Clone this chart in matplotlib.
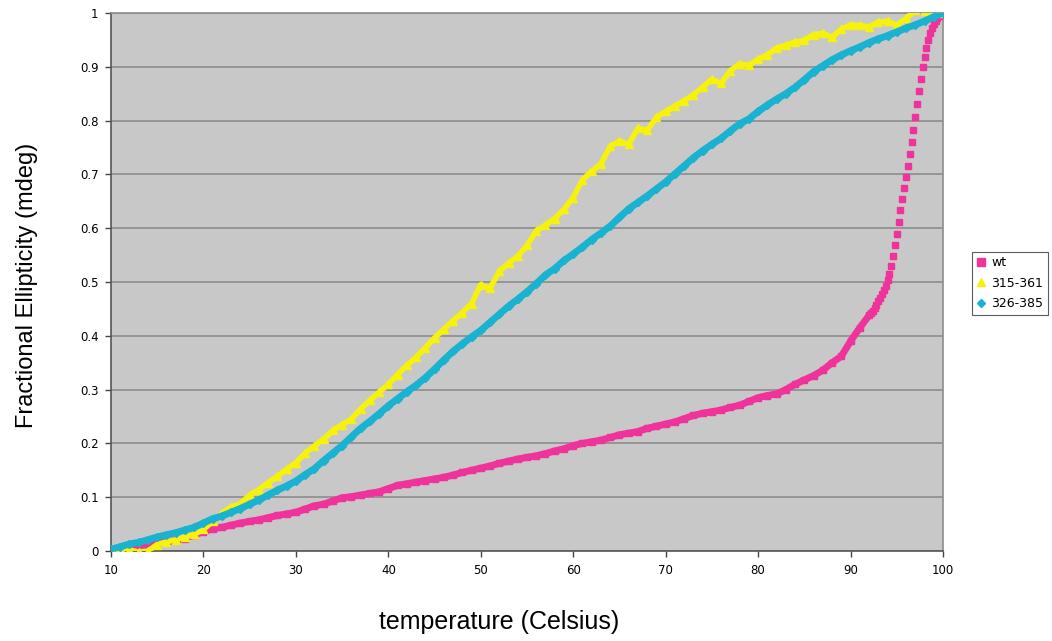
import matplotlib
matplotlib.use("Agg")
import matplotlib.pyplot as plt
import numpy as np

# temperature scan, 1 degree steps
temp = np.arange(10, 101)

# wt: 1 degree steps up to 91, then finer steps through the transition
wt_temp = list(range(10, 92)) + [
    92.0, 92.2, 92.4, 92.6, 92.8, 93.0, 93.2, 93.4, 93.6, 93.8,
    94.0, 94.2, 94.4, 94.6, 94.8, 95.0, 95.2, 95.4, 95.6, 95.8,
    96.0, 96.2, 96.4, 96.6, 96.8, 97.0, 97.2, 97.4, 97.6, 97.8,
    98.0, 98.2, 98.4, 98.6, 98.8, 99.0, 99.2, 99.4, 99.6, 99.8, 100.0]
wt_val = [0.0, 0.002, 0.005, 0.008, 0.012, 0.015, 0.017, 0.02, 0.023, 0.03,
          0.036, 0.041, 0.044, 0.048, 0.052, 0.055, 0.058, 0.062, 0.066, 0.069,
          0.072, 0.078, 0.084, 0.087, 0.093, 0.099, 0.101, 0.104, 0.107, 0.11,
          0.116, 0.122, 0.125, 0.128, 0.131, 0.134, 0.137, 0.141, 0.146, 0.15,
          0.154, 0.158, 0.163, 0.167, 0.171, 0.174, 0.177, 0.181, 0.186, 0.19,
          0.196, 0.2, 0.203, 0.206, 0.211, 0.216, 0.219, 0.222, 0.228, 0.232,
          0.236, 0.24, 0.246, 0.252, 0.256, 0.259, 0.262, 0.267, 0.271, 0.278,
          0.285, 0.289, 0.292, 0.3, 0.31, 0.318, 0.326, 0.336, 0.35, 0.362,
          0.39, 0.415,
          0.438, 0.442, 0.446, 0.452, 0.458, 0.464, 0.47, 0.477, 0.485, 0.493,
          0.503, 0.515, 0.53, 0.548, 0.568, 0.59, 0.612, 0.634, 0.655, 0.675,
          0.695, 0.715, 0.738, 0.76, 0.783, 0.806, 0.83, 0.855, 0.878, 0.9,
          0.918, 0.935, 0.95, 0.962, 0.972, 0.98, 0.986, 0.99, 0.994, 0.997, 1.0]

m315_361 = [0.003, 0.005, 0.002, -0.002, 0.0, 0.012, 0.017, 0.021, 0.026, 0.031,
            0.04, 0.055, 0.07, 0.082, 0.088, 0.104, 0.114, 0.127, 0.139, 0.152,
            0.164, 0.182, 0.195, 0.208, 0.224, 0.235, 0.245, 0.264, 0.28, 0.295,
            0.31, 0.328, 0.345, 0.36, 0.378, 0.396, 0.412, 0.428, 0.443, 0.46,
            0.495, 0.488, 0.52, 0.535, 0.548, 0.568, 0.595, 0.606, 0.618, 0.635,
            0.657, 0.69, 0.706, 0.72, 0.752, 0.762, 0.756, 0.786, 0.782, 0.806,
            0.817, 0.827, 0.837, 0.848, 0.862, 0.877, 0.869, 0.893, 0.905, 0.903,
            0.914, 0.922, 0.935, 0.94, 0.946, 0.949, 0.96, 0.962, 0.955, 0.97,
            0.978, 0.977, 0.974, 0.983, 0.985, 0.977, 0.99, 1.005, 1.004, 1.0,
            1.0]

m326_385 = [0.003, 0.008, 0.013, 0.016, 0.021, 0.026, 0.03, 0.034, 0.039, 0.044,
            0.052, 0.06, 0.065, 0.072, 0.079, 0.087, 0.095, 0.104, 0.113, 0.121,
            0.13, 0.142, 0.153, 0.168, 0.182, 0.196, 0.212, 0.228, 0.241, 0.255,
            0.27, 0.283, 0.296, 0.308, 0.322, 0.338, 0.355, 0.371, 0.385, 0.398,
            0.41, 0.425, 0.44, 0.455, 0.468, 0.482, 0.497, 0.513, 0.525, 0.54,
            0.552, 0.565, 0.579, 0.591, 0.604, 0.62, 0.636, 0.648, 0.66, 0.673,
            0.686, 0.701, 0.716, 0.731, 0.744, 0.756, 0.767, 0.781, 0.794, 0.803,
            0.817, 0.829, 0.84, 0.85, 0.862, 0.876, 0.891, 0.902, 0.913, 0.922,
            0.93, 0.937, 0.945, 0.952, 0.958, 0.965, 0.972, 0.978, 0.985, 0.993,
            1.0]

x_ticks = np.arange(10, 101, 10)
y_ticks = np.round(np.arange(0, 1.01, 0.1), 1)

c_wt = "#f0339a"
c_315 = "#f6f20c"
c_326 = "#19b3d1"

fig = plt.figure(figsize=(10.52, 6.41), dpi=100)
ax = fig.add_axes([0.1055, 0.1404, 0.7909, 0.8393])
ax.set_facecolor("#c8c8c8")

wt_t = np.array(wt_temp)
wt_v = np.array(wt_val)
low = wt_t <= 92
# dense part drawn as a band, steep part as separate squares
ax.plot(wt_t[low], wt_v[low], color=c_wt, lw=5, zorder=3)
ax.plot(wt_t, wt_v, ls="none", marker="s", ms=5, color=c_wt, mec=c_wt, zorder=3)
ax.plot(temp, m315_361, color=c_315, lw=4, marker="^", ms=6, mec=c_315, zorder=4)
ax.plot(temp, m326_385, color=c_326, lw=5, marker="D", ms=4, mec=c_326, zorder=5)

ax.set_xlim(10, 100)
ax.set_ylim(0, 1)
ax.set_xticks(x_ticks)
ax.set_yticks(y_ticks)
ax.set_xticklabels([str(v) for v in x_ticks])
ax.set_yticklabels(["0" if v == 0 else ("1" if v == 1 else f"{v:g}") for v in y_ticks])
ax.tick_params(labelsize=8.5, length=4, width=1, color="#444444", pad=5)

ax.yaxis.grid(True, color="#8c8c8c", lw=1.2)
ax.set_axisbelow(True)
for side in ["left", "bottom"]:
    ax.spines[side].set_color("#555555")
    ax.spines[side].set_linewidth(1.2)
for side in ["top", "right"]:
    ax.spines[side].set_color("#8c8c8c")
    ax.spines[side].set_linewidth(1.2)

fig.text(0.474, 0.030, "temperature (Celsius)", family="Liberation Sans",
         fontsize=18, ha="center", va="center")
fig.text(0.026, 0.555, "Fractional Ellipticity (mdeg)", family="Liberation Sans",
         fontsize=17, ha="center", va="center", rotation=90)

# legend handles: markers only
hw, = ax.plot([], [], ls="none", marker="s", ms=6, color=c_wt)
h3, = ax.plot([], [], ls="none", marker="^", ms=6, color=c_315)
h2, = ax.plot([], [], ls="none", marker="D", ms=4.5, color=c_326)
leg = fig.legend([hw, h3, h2], ["wt", "315-361", "326-385"],
                 loc="center left", bbox_to_anchor=(0.918, 0.558),
                 fontsize=9, frameon=True, fancybox=False, handlelength=0.8,
                 handletextpad=0.4, borderpad=0.35, labelspacing=0.6)
leg.get_frame().set_edgecolor("#333333")
leg.get_frame().set_linewidth(0.8)

fig.savefig("out.png", dpi=100)
